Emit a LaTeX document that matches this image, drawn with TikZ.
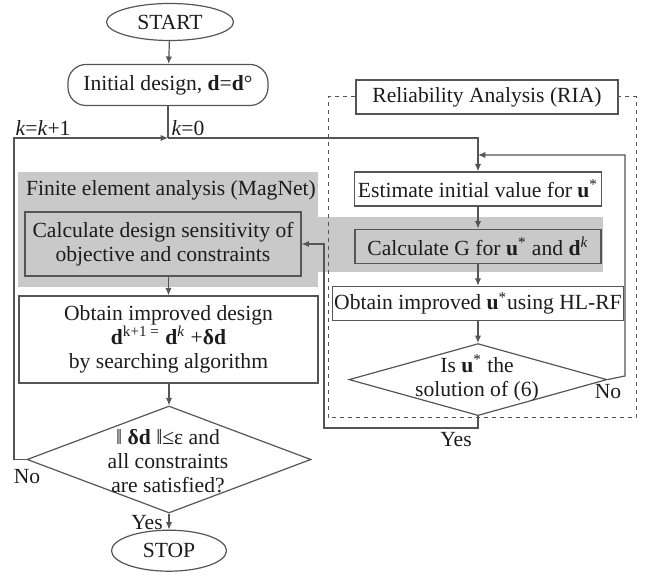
\documentclass[tikz,border=0pt]{standalone}
\usepackage{fontspec}
\setmainfont{Liberation Serif}
\usepackage{tikz}
\usetikzlibrary{arrows.meta,positioning,shapes.geometric}
\definecolor{fcedge}{RGB}{85,85,85}
\definecolor{fcshade}{RGB}{201,201,201}
\definecolor{fcink}{RGB}{28,28,28}
\tikzset{
  fcbox/.style={
    draw=fcedge, line width=0.6pt, align=center, inner sep=1pt,
    text=fcink, font=\fontsize{10.8}{12}\selectfont
  },
  term/.style={fcbox, ellipse},
  pill/.style={fcbox, rounded corners=9pt},
  proc/.style={fcbox, minimum height=17pt},
  dec/.style={fcbox, diamond, inner sep=0pt},
  arr/.style={-{Latex[length=1.3mm,width=1.1mm]}, draw=fcedge, line width=0.6pt},
  link/.style={draw=fcedge, line width=0.6pt},
  grp/.style={draw=fcedge, dash pattern=on 2.4pt off 1.6pt, line width=0.5pt},
  anno/.style={text=fcink, font=\fontsize{10.8}{12}\selectfont, align=center, inner sep=0pt}
}

\begin{document}
\begin{tikzpicture}[x=0.5pt, y=-0.5pt, node distance=11pt]
  \useasboundingbox (0,0) rectangle (649,576);
  \fill[fcshade] (18,172) rectangle (318,287);
  \fill[fcshade] (318,217) rectangle (603,272);

  \node[term, minimum width=63.5pt, minimum height=18.5pt] (start) at (170,22) {START};
  \node[pill, minimum width=100pt, minimum height=20.5pt] (init) at (168,85)
    {Initial design, \textbf{d}=\textbf{d}°};
  \coordinate (kj) at (168,138);
  \node[anno] (fea) at (171,190) {Finite element analysis (MagNet)};
  \node[proc, minimum width=138pt, minimum height=32pt] (sens) at (163,244)
    {Calculate design sensitivity of\\objective and constraints};
  \node[proc, minimum width=149.5pt, minimum height=43.5pt] (impr) at (168.5,339.5)
    {Obtain improved design\\\textbf{d}\textsuperscript{k+1 =} \textbf{d}\textsuperscript{\textit{k}} +\textbf{δd}\\by searching algorithm};
  \node[dec, minimum width=142pt, minimum height=53.5pt] (conv) at (169,459.5) {};
  \node[anno] (convtxt) at (168,461)
    {‖ \textbf{δd} ‖≤ε and\\all constraints\\are satisfied?};
  \node[term, minimum width=57.5pt, minimum height=20.5pt, below=8pt of conv] (stop) {STOP};

  \node[proc, minimum width=131pt] (riat) at (487,97) {Reliability Analysis (RIA)};
  \node[proc, minimum width=123.5pt] (est) at (478,189) {Estimate initial value for \textbf{u}\textsuperscript{*}};
  \node[proc, minimum width=123pt, below=of est] (calcg)
    {Calculate G for \textbf{u}\textsuperscript{*} and \textbf{d}\textsuperscript{\textit{k}}};
  \node[proc, minimum width=142.5pt, below=of calcg] (obtu)
    {Obtain improved \textbf{u}\textsuperscript{*}using HL-RF};
  \node[dec, minimum width=129pt, minimum height=36pt, below=of obtu] (sol) {};
  \node[anno] (soltxt) at (477,378) {Is \textbf{u}\textsuperscript{*} the\\solution of (6)};
  \draw[grp] (riat.west) -| (328,418) -| (636,97) -- (riat.east);

  \coordinate (rj) at (478,155);
  \coordinate (yb) at (324,428);
  \draw[arr] (start) -- (init);
  \draw[link] (init) -- (kj);
  \draw[arr] (conv.west) -- (14,459.5) |- (kj);
  \draw[arr] (kj) -| (est);
  \draw[arr] (sens.south -| impr.north) -- (impr.north);
  \draw[arr] (impr.south -| conv.north) -- (conv.north);
  \draw[arr] (conv) -- (stop);
  \draw[arr] (est) -- (calcg);
  \draw[arr] (calcg) -- (obtu);
  \draw[arr] (obtu) -- (sol);
  \draw[arr] (sol.east) -- (625,376) |- (rj);
  \draw[arr] (sol.south) |- (yb) |- (sens.east);

  \node[anno] (kinc) at (43,128) {\textit{k}=\textit{k}+1};
  \node[anno] (kzero) at (188,128) {\textit{k}=0};
  \node[anno] (convno) at (27,477) {No};
  \node[anno] (convyes) at (147,523) {Yes};
  \node[anno] (solno) at (608,392) {No};
  \node[anno] (solyes) at (456,440) {Yes};
\end{tikzpicture}
\end{document}
